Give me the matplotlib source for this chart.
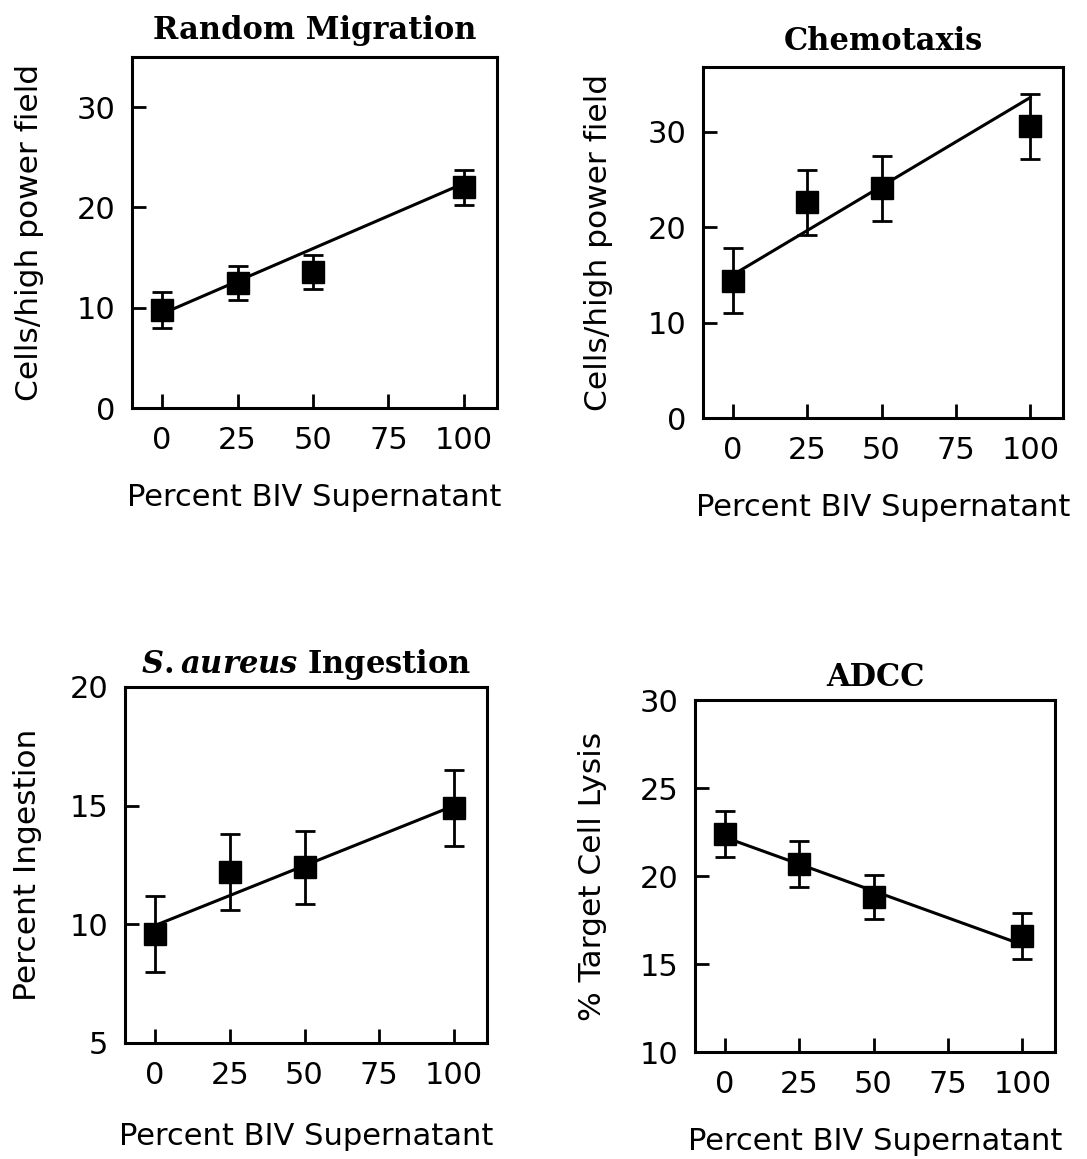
import matplotlib
matplotlib.use("Agg")
import matplotlib.pyplot as plt
import numpy as np

# --- data ---
pct_biv = [0, 25, 50, 100]

random_mean = [9.8, 12.5, 13.6, 22.0]
random_err = [1.8, 1.7, 1.7, 1.75]
random_fit = [9.4, 22.4]          # fitted value at 0 % and 100 %

chemo_mean = [14.4, 22.6, 24.1, 30.6]
chemo_err = [3.4, 3.4, 3.4, 3.4]
chemo_fit = [15.0, 33.6]

ingest_mean = [9.6, 12.2, 12.4, 14.9]
ingest_err = [1.6, 1.6, 1.55, 1.6]
ingest_fit = [9.95, 15.0]

adcc_mean = [22.4, 20.7, 18.8, 16.6]
adcc_err = [1.3, 1.3, 1.25, 1.3]
adcc_fit = [22.2, 16.1]

xticks = [0, 25, 50, 75, 100]

plt.rcParams['font.family'] = ['DejaVu Sans']
plt.rcParams['mathtext.fontset'] = 'custom'
plt.rcParams['mathtext.it'] = 'DejaVu Serif:italic:bold'
plt.rcParams['mathtext.rm'] = 'DejaVu Serif:bold'

W, H = 1087, 1159
fig = plt.figure(figsize=(W / 100, H / 100), dpi=100)


def box(left, top, right, bottom):
    """pixel box -> figure fraction rect"""
    return [left / W, 1 - bottom / H, (right - left) / W, (bottom - top) / H]


def panel(rect, mean, err, fit, title, ylabel, ylim, yticks, ylab_x,
          title_pad=12, xlab_pad=18):
    ax = fig.add_axes(rect)
    ax.plot([0, 100], fit, color='black', lw=2.2, zorder=2)
    ax.errorbar(pct_biv, mean, yerr=err, fmt='s', color='black', ms=16,
                ecolor='black', elinewidth=2, capsize=7, capthick=2, zorder=3)
    ax.set_xlim(-10, 111)
    ax.set_ylim(*ylim)
    ax.set_xticks(xticks)
    ax.set_yticks(yticks)
    ax.tick_params(direction='in', length=10, width=2, labelsize=22)
    ax.tick_params(axis='x', pad=13)
    ax.tick_params(axis='y', pad=12)
    for s in ax.spines.values():
        s.set_linewidth(2.2)
    ax.set_title(title, fontsize=22, fontfamily='DejaVu Serif',
                 fontweight='bold', pad=title_pad)
    ax.set_xlabel('Percent BIV Supernatant', fontsize=22, labelpad=xlab_pad)
    ax.set_ylabel(ylabel, fontsize=22.5)
    ax.yaxis.set_label_coords(ylab_x, 0.5)
    return ax


panel(box(132, 57, 497, 408), random_mean, random_err, random_fit,
      'Random Migration', 'Cells/high power field', (0, 35),
      [0, 10, 20, 30], -0.24, title_pad=13, xlab_pad=20)
panel(box(703, 67, 1063, 418), chemo_mean, chemo_err, chemo_fit,
      'Chemotaxis', 'Cells/high power field', (0, 36.8),
      [0, 10, 20, 30], -0.25, xlab_pad=20)
panel(box(125, 687, 487, 1043), ingest_mean, ingest_err, ingest_fit,
      r'$S.aureus$ Ingestion', 'Percent Ingestion', (5, 20),
      [5, 10, 15, 20], -0.23, title_pad=10, xlab_pad=23)
panel(box(695, 700, 1055, 1052), adcc_mean, adcc_err, adcc_fit,
      'ADCC', '% Target Cell Lysis', (10, 30),
      [10, 15, 20, 25, 30], -0.245, title_pad=10, xlab_pad=20)

fig.savefig('out.png', dpi=100)
plt.close(fig)
